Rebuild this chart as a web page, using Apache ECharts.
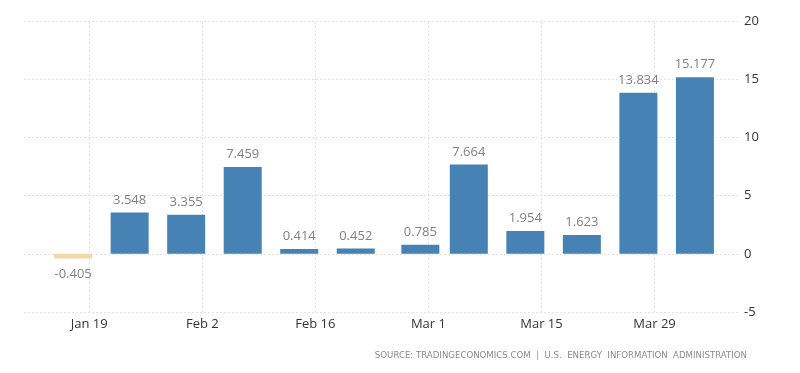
<!DOCTYPE html>
<html><head><meta charset="utf-8">
<script src="https://cdn.jsdelivr.net/npm/echarts@6/dist/echarts.min.js"></script>
<style>html,body{margin:0;padding:0;background:#fff}#c{width:800px;height:373px}</style>
</head><body><div id="c"></div>
<script>
const dates = ['2020-01-17','2020-01-24','2020-01-31','2020-02-07','2020-02-14','2020-02-21','2020-02-29','2020-03-06','2020-03-13','2020-03-20','2020-03-27','2020-04-03'];
const values = [-0.405, 3.548, 3.355, 7.459, 0.414, 0.452, 0.785, 7.664, 1.954, 1.623, 13.834, 15.177];
const tickDates = ['2020-01-19','2020-02-02','2020-02-16','2020-03-01','2020-03-15','2020-03-29'];
const tickLabels = ['Jan 19','Feb 2','Feb 16','Mar 1','Mar 15','Mar 29'];
const sourceText = 'SOURCE: TRADINGECONOMICS.COM  |  U.S.  ENERGY  INFORMATION  ADMINISTRATION';

function ts(s){ const p=s.split('-').map(Number); return new Date(p[0],p[1]-1,p[2]).getTime(); }
const H = 3600000, D = 24*H;
const anchor = ts('2020-01-19');

const chart = echarts.init(document.getElementById('c'), null, {renderer:'canvas'});
chart.setOption({
  animation:false,
  grid:{left:24,right:60,top:21,bottom:61,containLabel:false},
  xAxis:{
    type:'time',
    min: anchor - 5.73*D,
    max: anchor + 78.23*D,
    axisLine:{show:false},
    axisTick:{show:false},
    axisLabel:{show:false},
    splitLine:{show:false}
  },
  yAxis:{
    type:'value', position:'right', min:-5, max:20, interval:5,
    axisLine:{show:false}, axisTick:{show:false},
    axisLabel:{color:'#333', fontSize:13, fontFamily:'Open Sans', margin:4},
    splitLine:{lineStyle:{color:'#e3e3e3', type:[2,2]}}
  },
  series:[{
    type:'bar',
    barWidth:38,
    z:2,
    data: dates.map((d,i)=>({
      value:[ts(d), values[i]],
      itemStyle:{color: values[i] < 0 ? '#f3d9a8' : '#4682b4'},
      label:{position: values[i] < 0 ? 'bottom' : 'top', distance: values[i] < 0 ? 9 : 6}
    })),
    label:{show:true, color:'#808080', fontSize:13, fontFamily:'Open Sans', formatter:(p)=>p.value[1].toFixed(3)},
    markLine:{
      silent:true, symbol:'none', animation:false, z:0,
      lineStyle:{color:'#e3e3e3', type:[2,2], width:1},
      label:{show:true, position:'start', distance:6, color:'#333', fontSize:13, fontFamily:'Open Sans'},
      data: tickDates.map((d,i)=>({xAxis: ts(d), label:{formatter: tickLabels[i]}}))
    }
  }],
  graphic:[{
    type:'text', right:53, top:351,
    style:{text:sourceText, fill:'#8a8a8a', fontSize:8.6, fontFamily:'DejaVu Sans'}
  }]
});
</script></body></html>
